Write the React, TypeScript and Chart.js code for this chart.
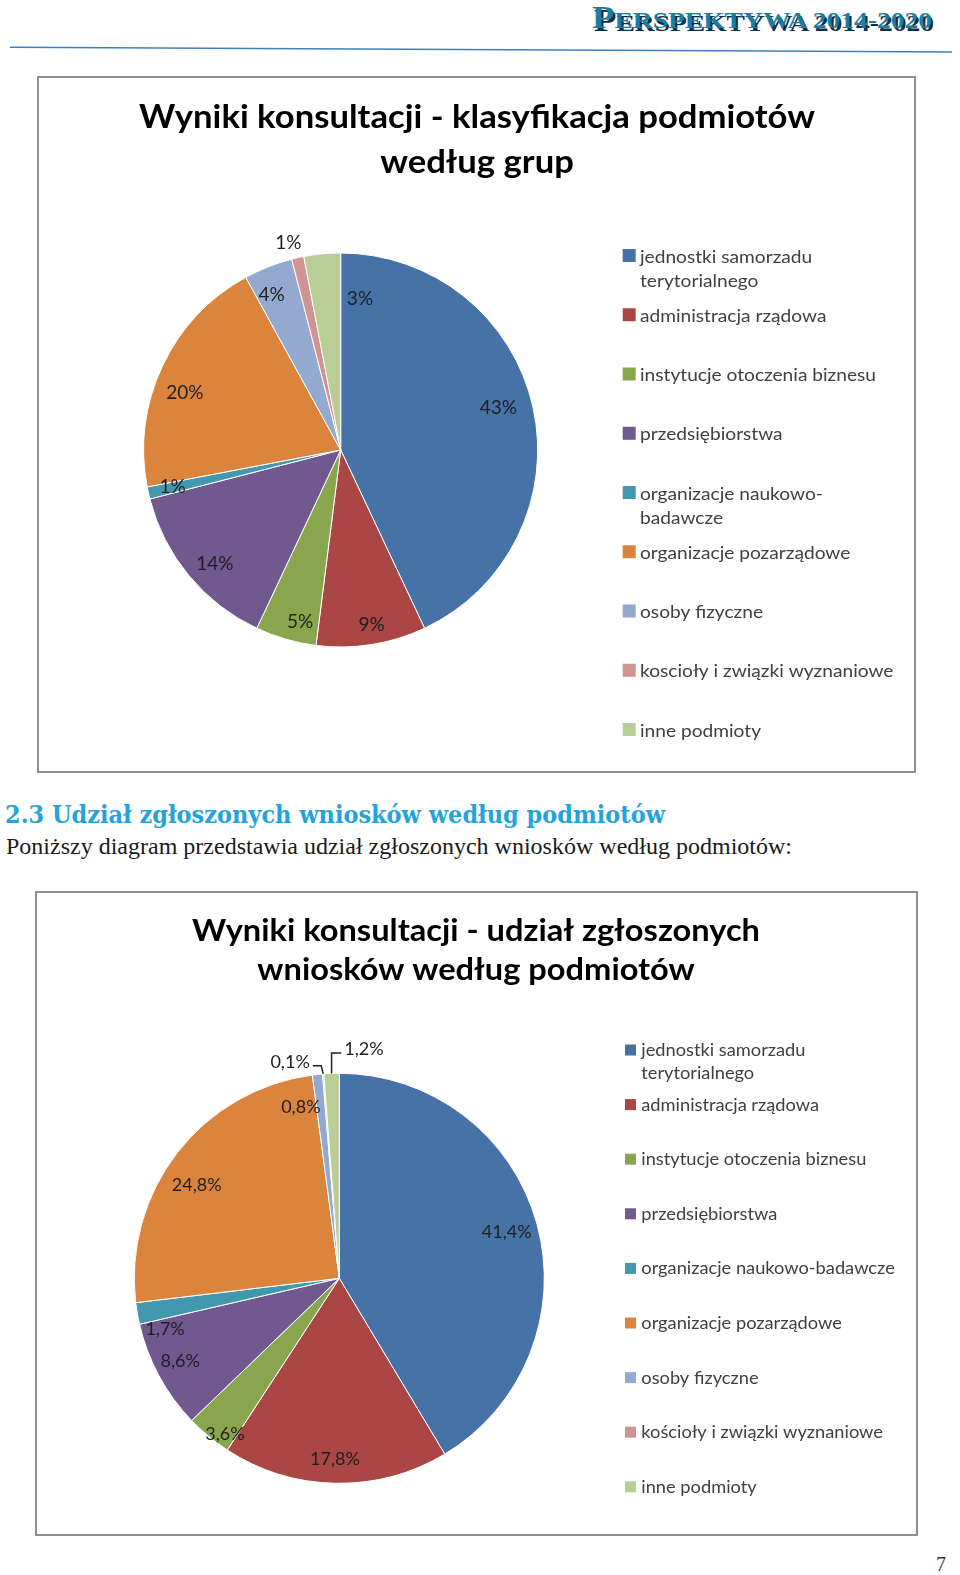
import React, { useEffect, useRef } from "react";
import { Chart, registerables } from "chart.js";
Chart.register(...registerables);

// ---------- data ----------
const title1 = ["Wyniki konsultacji - klasyfikacja podmiotów", "według grup"];
const categories1 = [
  ["jednostki samorzadu", "terytorialnego"],
  ["administracja rządowa"],
  ["instytucje otoczenia biznesu"],
  ["przedsiębiorstwa"],
  ["organizacje naukowo-", "badawcze"],
  ["organizacje pozarządowe"],
  ["osoby fizyczne"],
  ["koscioły i związki wyznaniowe"],
  ["inne podmioty"],
];
const values1 = [43, 9, 5, 14, 1, 20, 4, 1, 3];

const title2 = ["Wyniki konsultacji - udział zgłoszonych", "wniosków według podmiotów"];
const categories2 = [
  ["jednostki samorzadu", "terytorialnego"],
  ["administracja rządowa"],
  ["instytucje otoczenia biznesu"],
  ["przedsiębiorstwa"],
  ["organizacje naukowo-badawcze"],
  ["organizacje pozarządowe"],
  ["osoby fizyczne"],
  ["kościoły i związki wyznaniowe"],
  ["inne podmioty"],
];
const values2 = [41.4, 17.8, 3.6, 8.6, 1.7, 24.8, 0.8, 0.1, 1.2];

const labels1 = values1.map((v) => `${v}%`);
const labels2 = values2.map((v) => `${v.toFixed(1).replace(".", ",")}%`);

const pieColors = [
  "#4672A8",
  "#AA4643",
  "#89A54E",
  "#71588F",
  "#4198AF",
  "#DB843D",
  "#93A9CF",
  "#D19392",
  "#B9CD96",
];

// ---------- layout / style ----------
const cfg1 = {
  left: 38, top: 77, w: 877, h: 695,
  cx: 340.7, cy: 450, R: 197,
  title: title1, titleX: 477, titleBaselines: [128, 173], titleSize: 33, titleWidth: 676,
  legend: categories1, legendFont: 18, legendRef: "instytucje otoczenia biznesu", legendRefWidth: 236,
  boxX: 622.7, box: 13, textX: 640, legendY0: 262.5, legendStep: 59.25, lineStep: 24.7,
  values: values1, labels: labels1, labelFont: 19,
  shift: [-2.6, -1.1, -2.9, -2.4, 0.3, -4.7, -2.3, -1.5, 12.65],
  frac: [0.829, 0.897, 0.895, 0.859, 0.873, 0.844, 0.866, 1.09, 0.776],
  leader: [false, false, false, false, false, false, false, false, false],
};
const cfg2 = {
  left: 36, top: 892, w: 881, h: 643,
  cx: 339.3, cy: 1278.3, R: 205,
  title: title2, titleX: 476, titleBaselines: [941, 980], titleSize: 30, titleWidth: 568,
  legend: categories2, legendFont: 17, legendRef: "instytucje otoczenia biznesu", legendRefWidth: 225,
  boxX: 625, box: 11, textX: 641.3, legendY0: 1056, legendStep: 54.6, lineStep: 22.7,
  values: values2, labels: labels2, labelFont: 18,
  shift: [-0.1, 0.3, -3.2, 1.2, -6.1, -4.6, -6.5, -8.3, 8.3],
  frac: [0.848, 0.878, 0.94, 0.873, 0.884, 0.831, 0.858, 1.083, 1.125],
  leader: [false, false, false, false, false, false, false, true, true],
};

function makePlugin(cfg: any) {
  return {
    id: "piePage",
    afterDatasetsDraw(chart: any) {
      const ctx = chart.ctx as CanvasRenderingContext2D;
      const ox = cfg.left, oy = cfg.top;
      ctx.save();
      // title
      ctx.fillStyle = "#000";
      ctx.font = `bold ${cfg.titleSize}px Lato`;
      ctx.textAlign = "center";
      ctx.textBaseline = "alphabetic";
      const tsx = cfg.titleWidth / ctx.measureText(cfg.title[0]).width;
      cfg.title.forEach((line: string, i: number) => {
        ctx.save();
        ctx.translate(cfg.titleX - ox, cfg.titleBaselines[i] - oy);
        ctx.scale(tsx, 1);
        ctx.fillText(line, 0, 0);
        ctx.restore();
      });
      // legend
      ctx.font = `${cfg.legendFont}px Lato`;
      ctx.textAlign = "left";
      const lsx = cfg.legendRefWidth / ctx.measureText(cfg.legendRef).width;
      cfg.legend.forEach((lines: string[], i: number) => {
        const base = cfg.legendY0 + i * cfg.legendStep - oy;
        ctx.fillStyle = pieColors[i];
        ctx.fillRect(cfg.boxX - ox, base - cfg.box - 0.5, cfg.box, cfg.box);
        ctx.fillStyle = "#404040";
        lines.forEach((t, j) => {
          ctx.save();
          ctx.translate(cfg.textX - ox, base + j * cfg.lineStep);
          ctx.scale(lsx, 1);
          ctx.fillText(t, 0, 0);
          ctx.restore();
        });
      });
      // data labels
      const meta = chart.getDatasetMeta(0);
      ctx.font = `${cfg.labelFont}px Lato`;
      ctx.textAlign = "center";
      ctx.fillStyle = "#1f1f1f";
      ctx.strokeStyle = "#222";
      ctx.lineWidth = 1.5;
      meta.data.forEach((arc: any, i: number) => {
        const p = arc.getProps(["x", "y", "startAngle", "endAngle", "outerRadius"], true);
        const m0 = (p.startAngle + p.endAngle) / 2;
        const a = m0 + (cfg.shift[i] * Math.PI) / 180;
        const r = p.outerRadius * cfg.frac[i];
        const lx = p.x + r * Math.cos(a);
        const ly = p.y + r * Math.sin(a);
        const text = cfg.labels[i];
        ctx.fillText(text, lx, ly + cfg.labelFont * 0.36);
        if (cfg.leader[i]) {
          const ex = p.x + p.outerRadius * Math.cos(m0);
          const ey = p.y + p.outerRadius * Math.sin(m0);
          const tw = ctx.measureText(text).width;
          const yy = ly + 4;
          const left = lx < ex;
          const sx = left ? lx + tw / 2 + 3 : lx - tw / 2 - 3;
          const hx = left ? ex - 2 : ex;
          ctx.beginPath();
          ctx.moveTo(sx, yy);
          ctx.lineTo(hx, yy);
          ctx.lineTo(ex, ey);
          ctx.stroke();
        }
      });
      ctx.restore();
    },
  };
}

function PieBox({ cfg }: { cfg: any }) {
  const ref = useRef<HTMLCanvasElement>(null);
  useEffect(() => {
    const cx = cfg.cx - cfg.left;
    const cy = cfg.cy - cfg.top;
    const half = cfg.R + 0.5;
    const chart = new Chart(ref.current as HTMLCanvasElement, {
      type: "pie",
      data: {
        labels: cfg.legend.map((l: string[]) => l.join(" ")),
        datasets: [
          {
            data: cfg.values,
            backgroundColor: pieColors,
            borderColor: "#ffffff",
            borderWidth: 1,
            radius: cfg.R,
          } as any,
        ],
      },
      options: {
        responsive: false,
        animation: false,
        layout: {
          padding: {
            left: cx - half,
            right: cfg.w - cx - half,
            top: cy - half,
            bottom: cfg.h - cy - half,
          },
        },
        plugins: {
          legend: { display: false },
          title: { display: false },
          tooltip: { enabled: false },
        },
      },
      plugins: [makePlugin(cfg)],
    });
    return () => chart.destroy();
  }, [cfg]);
  return (
    <canvas
      ref={ref}
      width={cfg.w}
      height={cfg.h}
      style={{ position: "absolute", left: cfg.left, top: cfg.top, width: cfg.w, height: cfg.h }}
    />
  );
}

export default function App() {
  return (
    <div
      style={{
        position: "absolute",
        left: 0,
        top: 0,
        width: 960,
        height: 1575,
        background: "#fff",
        overflow: "hidden",
      }}
    >
      <svg width={960} height={1575} style={{ position: "absolute", left: 0, top: 0 }}>
        <text
          x={594}
          y={30.5}
          fontFamily="Liberation Serif"
          fontWeight="bold"
          fill="#0e2f4b"
          textLength={340}
          lengthAdjust="spacingAndGlyphs"
        >
          <tspan fontSize={32}>P</tspan>
          <tspan fontSize={24}>ERSPEKTYWA 2014-2020</tspan>
        </text>
        <text
          x={592}
          y={28.3}
          fontFamily="Liberation Serif"
          fontWeight="bold"
          fill="#1c7d9e"
          textLength={340}
          lengthAdjust="spacingAndGlyphs"
        >
          <tspan fontSize={32}>P</tspan>
          <tspan fontSize={24}>ERSPEKTYWA 2014-2020</tspan>
        </text>
        <line x1={10} y1={47.3} x2={952} y2={52} stroke="#3c7fc2" strokeWidth={1.6} />
        <rect x={38} y={77} width={877} height={695} fill="#fff" stroke="#8f8f8f" strokeWidth={2} />
        <text
          x={5}
          y={822.5}
          fontFamily="DejaVu Serif"
          fontWeight="bold"
          fontSize={24.5}
          fill="#24a2dc"
          textLength={660}
          lengthAdjust="spacingAndGlyphs"
        >
          2.3 Udział zgłoszonych wniosków według podmiotów
        </text>
        <text
          x={6}
          y={854}
          fontFamily="Liberation Serif"
          fontSize={22.5}
          fill="#1a1a1a"
          textLength={786}
          lengthAdjust="spacingAndGlyphs"
        >
          Poniższy diagram przedstawia udział zgłoszonych wniosków według podmiotów:
        </text>
        <rect x={36} y={892} width={881} height={643} fill="#fff" stroke="#8f8f8f" strokeWidth={2} />
        <text x={936} y={1571} fontFamily="Liberation Serif" fontSize={20} fill="#333">
          7
        </text>
      </svg>
      <PieBox cfg={cfg1} />
      <PieBox cfg={cfg2} />
    </div>
  );
}
